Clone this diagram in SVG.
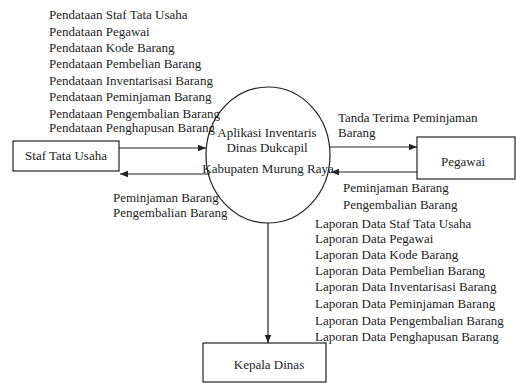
<svg xmlns="http://www.w3.org/2000/svg" width="516" height="383" viewBox="0 0 516 383">
<style>
text{font-family:'Liberation Serif','Times New Roman',Tinos,serif;font-size:13px;fill:#222}
.box{fill:#fff;stroke:#222;stroke-width:1.2}
.ln{stroke:#222;stroke-width:1.2;fill:none}
</style>
<defs>
<marker id="ah" viewBox="0 0 10 10" refX="10" refY="5" markerWidth="8" markerHeight="8" markerUnits="userSpaceOnUse" orient="auto">
<path d="M0,1 L10,5 L0,9 z" fill="#222"/>
</marker>
</defs>
<rect width="516" height="383" fill="#fff"/>
<g id="connectors">
<line class="ln" x1="119" y1="148" x2="206" y2="148" marker-end="url(#ah)"/>
<line class="ln" x1="210" y1="174" x2="120" y2="174" marker-end="url(#ah)"/>
<line class="ln" x1="330" y1="147" x2="417" y2="147" marker-end="url(#ah)"/>
<line class="ln" x1="417" y1="172" x2="331" y2="172" marker-end="url(#ah)"/>
<line class="ln" x1="268" y1="223" x2="268" y2="343" marker-end="url(#ah)"/>
</g>
<g id="labels-left-top" font-family="Liberation Serif, serif">
<text x="49" y="19">Pendataan Staf Tata Usaha</text>
<text x="49" y="36">Pendataan Pegawai</text>
<text x="49" y="52">Pendataan Kode Barang</text>
<text x="49" y="68">Pendataan Pembelian Barang</text>
<text x="49" y="85">Pendataan Inventarisasi Barang</text>
<text x="49" y="101">Pendataan Peminjaman Barang</text>
<text x="49" y="118">Pendataan Pengembalian Barang</text>
<text x="49" y="132">Pendataan Penghapusan Barang</text>
</g>
<g id="labels-left-bottom">
<text x="113" y="202">Peminjaman Barang</text>
<text x="113" y="217">Pengembalian Barang</text>
</g>
<g id="labels-right">
<text x="338" y="122">Tanda Terima Peminjaman</text>
<text x="338" y="137">Barang</text>
<text x="343" y="192">Peminjaman Barang</text>
<text x="343" y="209">Pengembalian Barang</text>
</g>
<g id="labels-laporan">
<text x="315" y="228">Laporan Data Staf Tata Usaha</text>
<text x="315" y="243">Laporan Data Pegawai</text>
<text x="315" y="259">Laporan Data Kode Barang</text>
<text x="315" y="275">Laporan Data Pembelian Barang</text>
<text x="315" y="291">Laporan Data Inventarisasi Barang</text>
<text x="315" y="308">Laporan Data Peminjaman Barang</text>
<text x="315" y="325">Laporan Data Pengembalian Barang</text>
<text x="315" y="341">Laporan Data Penghapusan Barang</text>
</g>
<g id="process">
<ellipse class="ln" cx="268" cy="155" rx="62" ry="68"/>
<text x="267" y="137" text-anchor="middle">Aplikasi Inventaris</text>
<text x="267" y="152" text-anchor="middle">Dinas Dukcapil</text>
<text x="268" y="173" text-anchor="middle">Kabupaten  Murung Raya</text>
</g>
<g id="staf">
<rect class="box" x="13" y="141" width="106" height="30"/>
<text x="66" y="160" text-anchor="middle">Staf Tata Usaha</text>
</g>
<g id="pegawai">
<rect class="box" x="417" y="137" width="98" height="42"/>
<text x="463" y="166" text-anchor="middle">Pegawai</text>
</g>
<g id="kepala">
<rect class="box" x="203" y="343" width="123" height="39"/>
<text x="269" y="369" text-anchor="middle">Kepala  Dinas</text>
</g>
</svg>
